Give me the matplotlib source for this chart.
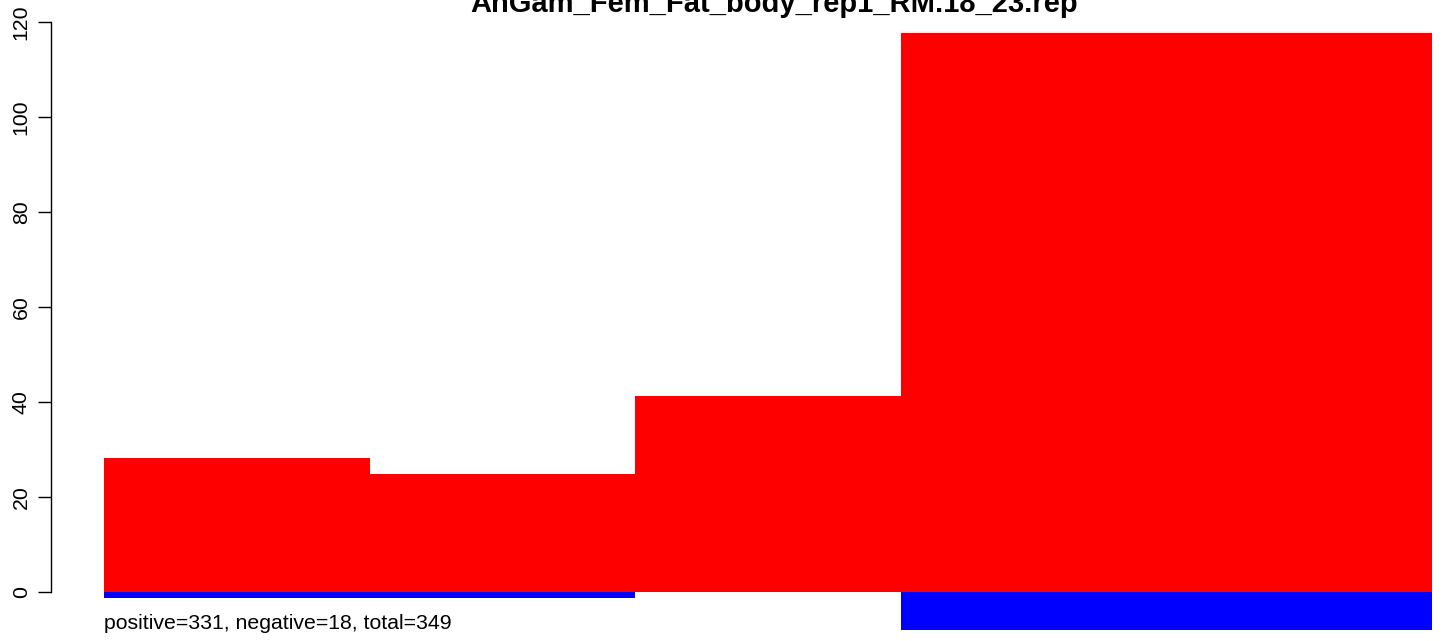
import matplotlib
matplotlib.use("Agg")
import matplotlib.pyplot as plt

# ===============================
# DATA
# ===============================
TITLE = "AnGam_Fem_Fat_body_rep1_RM.18_23.rep"
bins = [0, 1, 2, 3, 4]
positive = [28.2, 24.8, 41.3, 117.7, 117.7]
negative = [-1.3, -1.3, 0.0, -8.0, -8.0]
y_ticks = [0, 20, 40, 60, 80, 100, 120]
summary = "positive=331, negative=18, total=349"

plt.rcParams["font.family"] = ["Liberation Sans", "DejaVu Sans"]

W, H = 1444, 641
fig = plt.figure(figsize=(W / 100, H / 100), dpi=100)

# plot region of the original R device is wider than the crop
left_px, right_px = 51, 1485
top_px, bottom_px = 7.6, 654
ax = fig.add_axes([left_px / W, (H - bottom_px) / H,
                   (right_px - left_px) / W, (bottom_px - top_px) / H])

ax.bar(bins, positive, width=1.0, align="edge", color="#ff0000", linewidth=0)
ax.bar(bins, negative, width=1.0, align="edge", color="#0000ff", linewidth=0)

ax.set_xlim(-0.2, 5.2)
ax.set_ylim(-13.04, 123.04)

for side in ["top", "right", "bottom"]:
    ax.spines[side].set_visible(False)
ax.spines["left"].set_bounds(0, 120)
ax.spines["left"].set_linewidth(1.0)
ax.set_xticks([])
ax.set_yticks(y_ticks)
ax.set_yticklabels([str(t) for t in y_ticks], rotation=90, va="center", fontsize=15.3)
ax.tick_params(axis="y", length=9.5, width=1.0, pad=5)

ax.text(0, -6.6, summary, ha="left", va="center", fontsize=15.3)

fig.text(0.536, 1.0 - 11.5 / H, TITLE, ha="center", va="baseline",
         fontsize=21, fontweight="bold")

fig.savefig("out.png", dpi=100)
